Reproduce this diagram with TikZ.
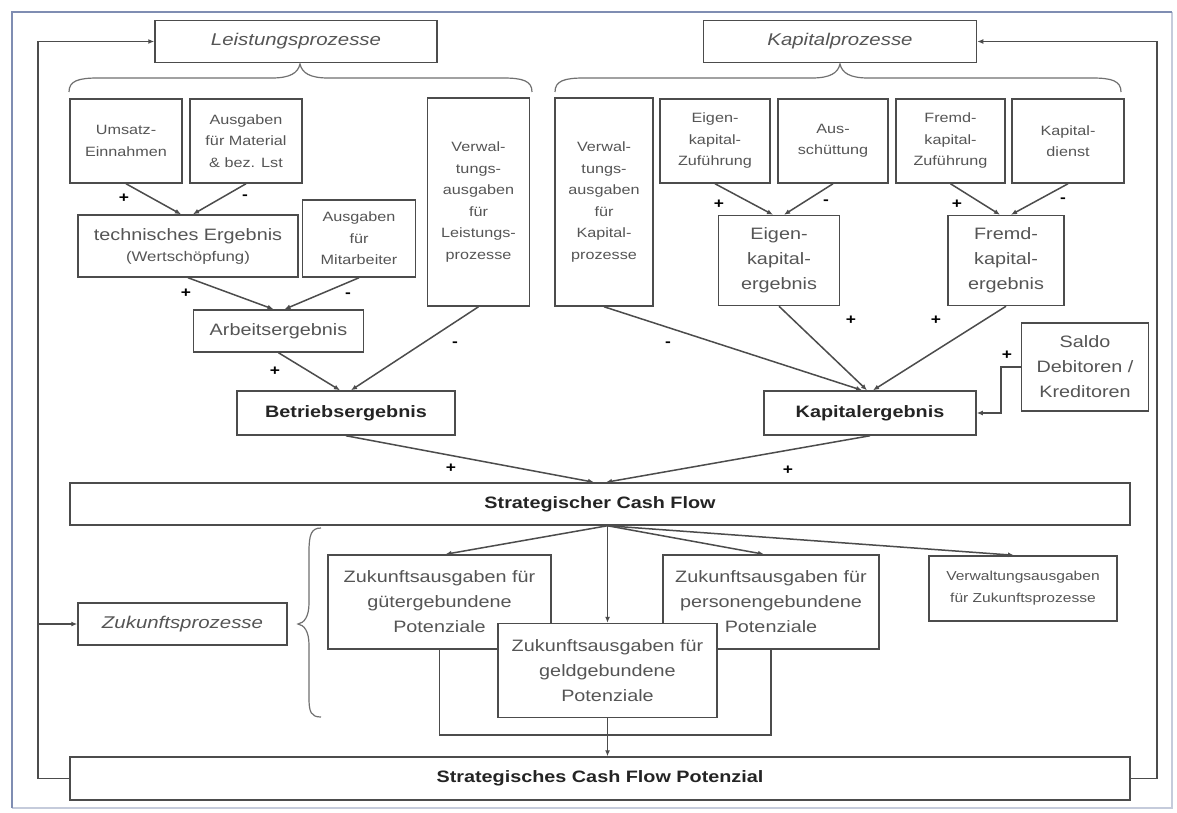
\documentclass[tikz,border=0pt]{standalone}
\usepackage{fontspec}
\setmainfont{Liberation Sans}[FakeStretch=1.2]
\usetikzlibrary{arrows.meta}

\definecolor{ink}{HTML}{4C4C4C}
\definecolor{txt}{HTML}{555555}
\definecolor{boldtxt}{HTML}{242424}
\definecolor{framecol}{HTML}{7F8DB2}
\definecolor{framelight}{HTML}{C5CBDB}

\begin{document}
\begin{tikzpicture}[x=1pt,y=-1pt,
  box/.style={draw=ink, line width=1.5pt, fill=white, align=center, inner sep=0pt, text=txt},
  small/.style={font=\fontsize{13.5}{21.5}\selectfont},
  mid/.style={font=\fontsize{16.5}{25}\selectfont},
  strong/.style={font=\fontsize{16.5}{20}\selectfont\bfseries, text=boldtxt},
  proc/.style={font=\fontsize{17}{20}\selectfont\itshape},
  arr/.style={draw=ink, line width=1.5pt, -{Latex[length=6pt,width=5pt]}},
  link/.style={draw=ink, line width=1.5pt},
  sign/.style={font=\fontsize{14.5}{14.5}\selectfont\bfseries, text=black, inner sep=0pt},
  brace/.style={draw=ink!80, line width=1.2pt},
]
\useasboundingbox (0,0) rectangle (1177,813);
\fill[white] (0,0) rectangle (1177,813);

% outer frame
\draw[framelight, line width=1.5pt] (1172,12) -- (1172,808) -- (12,808);
\draw[framecol, line width=2pt] (12,808) -- (12,12) -- (1172,12);

% process headers
\node[box, proc, minimum width=282pt, minimum height=42pt] (lp) at (296,41.5) {Leistungsprozesse};
\node[box, proc, minimum width=273pt, minimum height=42pt] (kp) at (840,41.5) {Kapitalprozesse};

% braces under the headers
\draw[brace] (69,92) .. controls (69,81) and (78,78) .. (98,78) -- (272,78)
  .. controls (290,78) and (298,73) .. (300,64)
  .. controls (302,73) and (310,78) .. (328,78) -- (503,78)
  .. controls (523,78) and (532,81) .. (532,92);
\draw[brace] (555,92) .. controls (555,81) and (564,78) .. (584,78) -- (812,78)
  .. controls (830,78) and (838,73) .. (840,64)
  .. controls (842,73) and (850,78) .. (868,78) -- (1092,78)
  .. controls (1112,78) and (1121,81) .. (1121,92);

% first row
\node[box, small, minimum width=112pt, minimum height=84pt] (umsatz) at (126,141) {Umsatz-\\Einnahmen};
\node[box, small, minimum width=112pt, minimum height=84pt] (material) at (246,141) {Ausgaben\\für Material\\\& bez. Lst};
\node[box, small, minimum width=102pt, minimum height=208pt] (verwL) at (478.5,202) {Verwal-\\tungs-\\ausgaben\\für\\Leistungs-\\prozesse};
\node[box, small, minimum width=98pt, minimum height=208pt] (verwK) at (604,202) {Verwal-\\tungs-\\ausgaben\\für\\Kapital-\\prozesse};
\node[box, small, minimum width=110pt, minimum height=84pt] (ekz) at (715,141) {Eigen-\\kapital-\\Zuführung};
\node[box, small, minimum width=110pt, minimum height=84pt] (aus) at (833,141) {Aus-\\schüttung};
\node[box, small, minimum width=109pt, minimum height=84pt] (fkz) at (950.5,141) {Fremd-\\kapital-\\Zuführung};
\node[box, small, minimum width=112pt, minimum height=84pt] (kdienst) at (1068,141) {Kapital-\\dienst};

% second row
\node[box, mid, minimum width=220pt, minimum height=62pt] (techn) at (188,246) {technisches Ergebnis\\[-4pt]{\fontsize{14}{18}\selectfont (Wertschöpfung)}};
\node[box, small, minimum width=113pt, minimum height=77pt] (mitarb) at (359,238.5) {Ausgaben\\für\\Mitarbeiter};
\node[box, mid, minimum width=121pt, minimum height=90pt] (ekerg) at (779,260.5) {Eigen-\\kapital-\\ergebnis};
\node[box, mid, minimum width=116pt, minimum height=90pt] (fkerg) at (1006,260.5) {Fremd-\\kapital-\\ergebnis};

% third row
\node[box, mid, minimum width=170pt, minimum height=42pt] (arbeit) at (278.5,331) {Arbeitsergebnis};
\node[box, mid, minimum width=127pt, minimum height=88pt] (saldo) at (1085,367) {Saldo\\Debitoren /\\Kreditoren};

% results
\node[box, strong, minimum width=218pt, minimum height=44pt] (betrieb) at (346,413) {Betriebsergebnis};
\node[box, strong, minimum width=212pt, minimum height=44pt] (kapital) at (870,413) {Kapitalergebnis};
\node[box, strong, minimum width=1060pt, minimum height=42pt] (scf) at (600,504) {Strategischer Cash Flow};

% future processes
\node[box, proc, minimum width=209pt, minimum height=42pt] (zp) at (182.5,624) {Zukunftsprozesse};
\draw[brace] (321,528) .. controls (311,528) and (309,535) .. (309,552) -- (309,603)
  .. controls (309,617) and (304,623) .. (298,624)
  .. controls (304,625) and (309,631) .. (309,645) -- (309,698)
  .. controls (309,712) and (311,717) .. (321,717);

\node[box, mid, minimum width=223pt, minimum height=94pt] (gut) at (439.5,602) {Zukunftsausgaben für\\gütergebundene\\Potenziale};
\node[box, mid, minimum width=216pt, minimum height=94pt] (pers) at (771,602) {Zukunftsausgaben für\\personengebundene\\Potenziale};
\node[box, small, minimum width=188pt, minimum height=65pt, font=\fontsize{13}{22}\selectfont] (verwZ) at (1023,588.5) {Verwaltungsausgaben\\für Zukunftsprozesse};

% the two side potentials join the central line
\draw[link] (gut.south) -- ++(0,85) -| (pers.south);
\node[box, mid, minimum width=219pt, minimum height=94pt] (geld) at (607.5,670.5) {Zukunftsausgaben für\\geldgebundene\\Potenziale};

\node[box, strong, minimum width=1060pt, minimum height=43pt] (scfp) at (600,778.5) {Strategisches Cash Flow Potenzial};

% aggregation arrows
\draw[arr] (umsatz.south) -- ([xshift=-7pt]techn.north);
\draw[arr] (material.south) -- ([xshift=5pt]techn.north);
\draw[arr] (techn.south) -- ([xshift=-5pt]arbeit.north);
\draw[arr] (mitarb.south) -- ([xshift=6pt]arbeit.north);
\draw[arr] (arbeit.south) -- ([xshift=-6pt]betrieb.north);
\draw[arr] (verwL.south) -- ([xshift=5pt]betrieb.north);
\draw[arr] (ekz.south) -- ([xshift=-6pt]ekerg.north);
\draw[arr] (aus.south) -- ([xshift=5pt]ekerg.north);
\draw[arr] (fkz.south) -- ([xshift=-6pt]fkerg.north);
\draw[arr] (kdienst.south) -- ([xshift=5pt]fkerg.north);
\draw[arr] (verwK.south) -- ([xshift=-8pt]kapital.north);
\draw[arr] (ekerg.south) -- ([xshift=-3pt]kapital.north);
\draw[arr] (fkerg.south) -- ([xshift=3pt]kapital.north);
\draw[arr] (saldo.west) -- ++(-20,0) |- (kapital.east);
\draw[arr] (betrieb.south) -- ([xshift=-6pt]scf.north);
\draw[arr] (kapital.south) -- ([xshift=6pt]scf.north);

% distribution of the strategic cash flow
\draw[arr] (scf.south -| geld.north) -- ([xshift=6pt]gut.north);
\draw[arr] (scf.south -| geld.north) -- (geld.north);
\draw[arr] (scf.south -| geld.north) -- ([xshift=-7pt]pers.north);
\draw[arr] (scf.south -| geld.north) -- ([xshift=-9pt]verwZ.north);
\draw[arr] (geld.south) -- (geld.south |- scfp.north);

% feedback loops
\coordinate (lrail) at (38,0);
\coordinate (rrail) at (1157,0);
\draw[arr] (scfp.west) -| (lrail |- lp.west) -- (lp.west);
\draw[arr] (lrail |- zp.west) -- (zp.west);
\draw[arr] (scfp.east) -| (rrail |- kp.east) -- (kp.east);

% signs
\node[sign] (s1) at (124,198) {+};
\node[sign] (s2) at (245,197) {-};
\node[sign] (s3) at (186,293) {+};
\node[sign] (s4) at (348,295) {-};
\node[sign] (s5) at (275,371) {+};
\node[sign] (s6) at (455,344) {-};
\node[sign] (s7) at (719,204) {+};
\node[sign] (s8) at (826,202) {-};
\node[sign] (s9) at (957,204) {+};
\node[sign] (s10) at (1063,200) {-};
\node[sign] (s11) at (668,344) {-};
\node[sign] (s12) at (851,320) {+};
\node[sign] (s13) at (936,320) {+};
\node[sign] (s14) at (1007,355) {+};
\node[sign] (s15) at (451,468) {+};
\node[sign] (s16) at (788,470) {+};
\end{tikzpicture}
\end{document}
